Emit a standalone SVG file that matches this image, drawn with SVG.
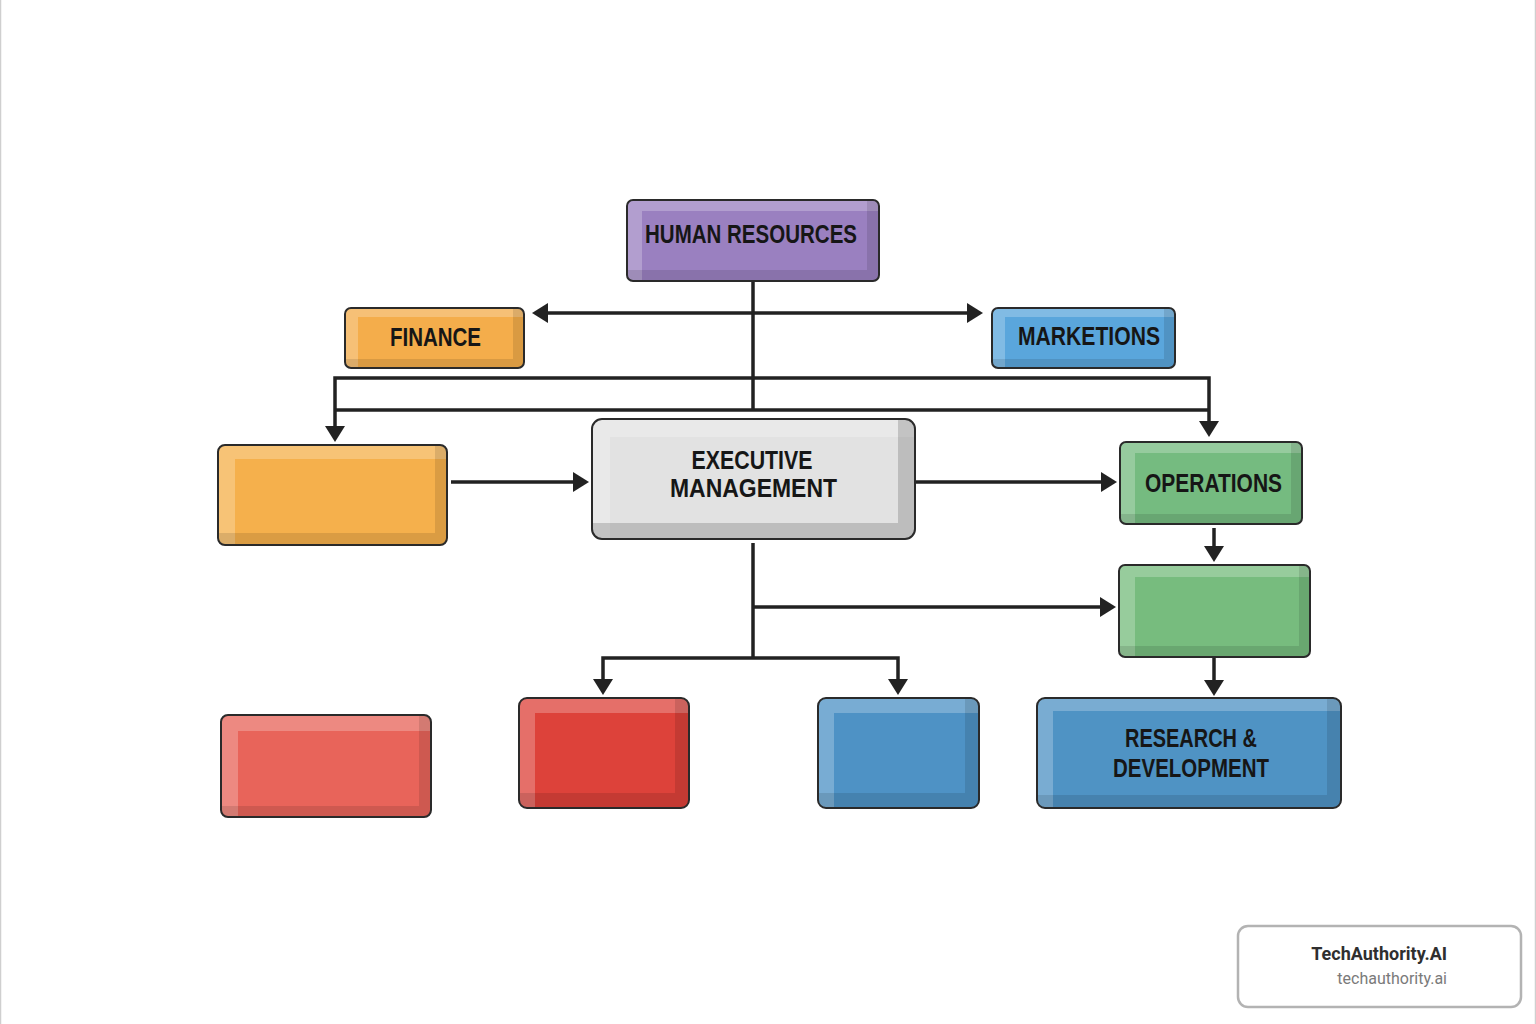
<svg xmlns="http://www.w3.org/2000/svg" width="1536" height="1024" viewBox="0 0 1536 1024">
<style>
.box{fill:none;stroke:#2a2a2a;stroke-width:2}
.hl{fill:#fff;fill-opacity:.24}
.sh{fill:#000;fill-opacity:.11}
.lbl{font-family:"Liberation Sans",Arial,sans-serif;font-weight:bold;font-size:25px;fill:#161616;text-anchor:middle}
.wire{fill:none;stroke:#222;stroke-width:3.5;stroke-linejoin:miter}
.arr{marker-end:url(#ah)}
.arr2{marker-start:url(#ah);marker-end:url(#ah)}
</style>
<defs>
<marker id="ah" viewBox="0 0 16 20" refX="12" refY="10" markerWidth="16" markerHeight="20" markerUnits="userSpaceOnUse" orient="auto-start-reverse">
<path d="M0,0 L16,10 L0,20 z" fill="#222"/>
</marker>
<clipPath id="c-hr"><rect x="627" y="200" width="252" height="81" rx="6"/></clipPath>
<clipPath id="c-fin"><rect x="345" y="308" width="179" height="60" rx="6"/></clipPath>
<clipPath id="c-mkt"><rect x="992" y="308" width="183" height="60" rx="6"/></clipPath>
<clipPath id="c-or"><rect x="218" y="445" width="229" height="100" rx="7"/></clipPath>
<clipPath id="c-ex"><rect x="592" y="419" width="323" height="120" rx="10"/></clipPath>
<clipPath id="c-ops"><rect x="1120" y="442" width="182" height="82" rx="6"/></clipPath>
<clipPath id="c-g2"><rect x="1119" y="565" width="191" height="92" rx="6"/></clipPath>
<clipPath id="c-rd"><rect x="1037" y="698" width="304" height="110" rx="8"/></clipPath>
<clipPath id="c-r1"><rect x="221" y="715" width="210" height="102" rx="7"/></clipPath>
<clipPath id="c-r2"><rect x="519" y="698" width="170" height="110" rx="8"/></clipPath>
<clipPath id="c-bl"><rect x="818" y="698" width="161" height="110" rx="8"/></clipPath>
</defs>
<rect x="0" y="0" width="1536" height="1024" fill="#fff"/>
<rect x="0.5" y="-2" width="1535" height="1028" fill="none" stroke="#cfcfcf" stroke-width="1.5"/>

<g id="connectors">
<path class="wire" d="M753,281 V410"/>
<path class="wire arr2" d="M536,313 H979"/>
<path class="wire arr2" d="M335,438 V378 H1209 V433"/>
<path class="wire" d="M335,410 H1209"/>
<path class="wire arr" d="M451,482 H585"/>
<path class="wire arr" d="M916,482 H1113"/>
<path class="wire arr" d="M1214,528 V558"/>
<path class="wire arr" d="M1214,657 V692"/>
<path class="wire" d="M753,543 V658"/>
<path class="wire arr" d="M753,607 H1112"/>
<path class="wire arr2" d="M603,691 V658 H898 V691"/>
</g>

<g id="hr">
<g clip-path="url(#c-hr)">
<rect x="627" y="200" width="252" height="81" fill="#9a80c0"/>
<rect class="hl" x="627" y="200" width="252" height="11"/>
<rect class="hl" x="627" y="211" width="15" height="70"/>
<rect class="sh" x="867" y="200" width="12" height="81"/>
<rect class="sh" x="627" y="270" width="240" height="11"/>
</g>
<rect class="box" x="627" y="200" width="252" height="81" rx="6" stroke="#3e3350"/>
<text class="lbl" x="751" y="243" textLength="212" lengthAdjust="spacingAndGlyphs">HUMAN RESOURCES</text>
</g>

<g id="finance">
<g clip-path="url(#c-fin)">
<rect x="345" y="308" width="179" height="60" fill="#f4ad4b"/>
<rect class="hl" x="345" y="308" width="179" height="9"/>
<rect class="hl" x="345" y="317" width="13" height="51"/>
<rect class="sh" x="513" y="308" width="11" height="60"/>
<rect class="sh" x="345" y="359" width="168" height="9"/>
</g>
<rect class="box" x="345" y="308" width="179" height="60" rx="6" stroke="#4a3418"/>
<text class="lbl" x="435.5" y="346" textLength="91" lengthAdjust="spacingAndGlyphs">FINANCE</text>
</g>

<g id="marketions">
<g clip-path="url(#c-mkt)">
<rect x="992" y="308" width="183" height="60" fill="#5aa6dc"/>
<rect class="hl" x="992" y="308" width="183" height="9"/>
<rect class="hl" x="992" y="317" width="13" height="51"/>
<rect class="sh" x="1164" y="308" width="11" height="60"/>
<rect class="sh" x="992" y="359" width="172" height="9"/>
</g>
<rect class="box" x="992" y="308" width="183" height="60" rx="6" stroke="#1f3447"/>
<text class="lbl" x="1089" y="345" textLength="142" lengthAdjust="spacingAndGlyphs">MARKETIONS</text>
</g>

<g id="orange-box">
<g clip-path="url(#c-or)">
<rect x="218" y="445" width="229" height="100" fill="#f5b04c"/>
<rect class="hl" x="218" y="445" width="229" height="14"/>
<rect class="hl" x="218" y="459" width="17" height="86"/>
<rect class="sh" x="435" y="445" width="12" height="100"/>
<rect class="sh" x="218" y="533" width="217" height="12"/>
</g>
<rect class="box" x="218" y="445" width="229" height="100" rx="7" stroke="#4a3418"/>
</g>

<g id="executive">
<g clip-path="url(#c-ex)">
<rect x="592" y="419" width="323" height="120" fill="#e2e2e2"/>
<rect class="hl" x="592" y="419" width="323" height="18"/>
<rect class="hl" x="592" y="437" width="18" height="102"/>
<rect x="898" y="419" width="17" height="120" fill="#000" fill-opacity=".16"/>
<rect x="592" y="523" width="306" height="16" fill="#000" fill-opacity=".16"/>
</g>
<rect class="box" x="592" y="419" width="323" height="120" rx="10" stroke="#555"/>
<text class="lbl" x="752" y="469" textLength="121" lengthAdjust="spacingAndGlyphs">EXECUTIVE</text>
<text class="lbl" x="753.5" y="497" textLength="167" lengthAdjust="spacingAndGlyphs">MANAGEMENT</text>
</g>

<g id="operations">
<g clip-path="url(#c-ops)">
<rect x="1120" y="442" width="182" height="82" fill="#75bb80"/>
<rect class="hl" x="1120" y="442" width="182" height="11"/>
<rect class="hl" x="1120" y="453" width="15" height="71"/>
<rect class="sh" x="1291" y="442" width="11" height="82"/>
<rect class="sh" x="1120" y="514" width="171" height="10"/>
</g>
<rect class="box" x="1120" y="442" width="182" height="82" rx="6" stroke="#1f3a22"/>
<text class="lbl" x="1213.5" y="492" textLength="137" lengthAdjust="spacingAndGlyphs">OPERATIONS</text>
</g>

<g id="green-box">
<g clip-path="url(#c-g2)">
<rect x="1119" y="565" width="191" height="92" fill="#77bc7e"/>
<rect class="hl" x="1119" y="565" width="191" height="12"/>
<rect class="hl" x="1119" y="577" width="16" height="80"/>
<rect class="sh" x="1299" y="565" width="11" height="92"/>
<rect class="sh" x="1119" y="646" width="180" height="11"/>
</g>
<rect class="box" x="1119" y="565" width="191" height="92" rx="6" stroke="#1f3a22"/>
</g>

<g id="research">
<g clip-path="url(#c-rd)">
<rect x="1037" y="698" width="304" height="110" fill="#4f93c4"/>
<rect class="hl" x="1037" y="698" width="304" height="13"/>
<rect class="hl" x="1037" y="711" width="16" height="97"/>
<rect class="sh" x="1327" y="698" width="14" height="110"/>
<rect class="sh" x="1037" y="795" width="290" height="13"/>
</g>
<rect class="box" x="1037" y="698" width="304" height="110" rx="8" stroke="#1c2e3e"/>
<text class="lbl" x="1191" y="747" textLength="132" lengthAdjust="spacingAndGlyphs">RESEARCH &amp;</text>
<text class="lbl" x="1191" y="777" textLength="156" lengthAdjust="spacingAndGlyphs">DEVELOPMENT</text>
</g>

<g id="red-box-1">
<g clip-path="url(#c-r1)">
<rect x="221" y="715" width="210" height="102" fill="#e8645a"/>
<rect class="hl" x="221" y="715" width="210" height="16"/>
<rect class="hl" x="221" y="731" width="17" height="86"/>
<rect class="sh" x="419" y="715" width="12" height="102"/>
<rect class="sh" x="221" y="806" width="198" height="11"/>
</g>
<rect class="box" x="221" y="715" width="210" height="102" rx="7" stroke="#3a1a18"/>
</g>

<g id="red-box-2">
<g clip-path="url(#c-r2)">
<rect x="519" y="698" width="170" height="110" fill="#dd423a"/>
<rect class="hl" x="519" y="698" width="170" height="15"/>
<rect class="hl" x="519" y="713" width="16" height="95"/>
<rect class="sh" x="675" y="698" width="14" height="110"/>
<rect class="sh" x="519" y="793" width="156" height="15"/>
</g>
<rect class="box" x="519" y="698" width="170" height="110" rx="8" stroke="#3a1a18"/>
</g>

<g id="blue-box">
<g clip-path="url(#c-bl)">
<rect x="818" y="698" width="161" height="110" fill="#4e92c5"/>
<rect class="hl" x="818" y="698" width="161" height="15"/>
<rect class="hl" x="818" y="713" width="16" height="95"/>
<rect class="sh" x="965" y="698" width="14" height="110"/>
<rect class="sh" x="818" y="793" width="147" height="15"/>
</g>
<rect class="box" x="818" y="698" width="161" height="110" rx="8" stroke="#1c2e3e"/>
</g>

<g id="watermark">
<rect x="1238" y="926" width="283" height="81" rx="10" fill="#fff" stroke="#b3b3b3" stroke-width="2.5"/>
<text x="1447" y="960" font-family="Roboto, 'Liberation Sans', sans-serif" font-weight="bold" font-size="18" fill="#2f2f2f" text-anchor="end">TechAuthority.AI</text>
<text x="1447" y="984" font-family="Roboto, 'Liberation Sans', sans-serif" font-size="16" fill="#7a7a7a" text-anchor="end">techauthority.ai</text>
</g>
</svg>
